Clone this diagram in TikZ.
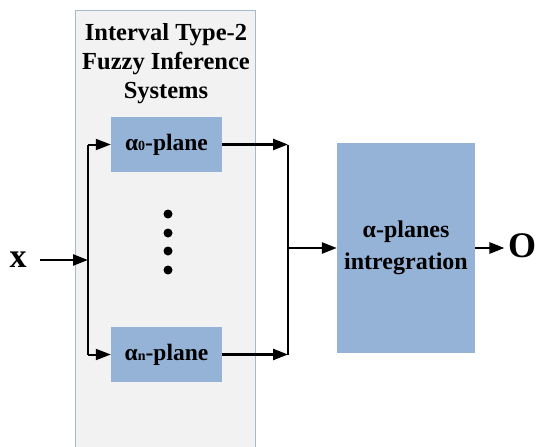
\documentclass[tikz,border=0pt]{standalone}
\usepackage{fontspec}
\setmainfont{Liberation Serif}
\usetikzlibrary{arrows.meta}
\definecolor{panelfill}{HTML}{F2F2F2}
\definecolor{paneledge}{HTML}{A9B9CC}
\definecolor{blockfill}{HTML}{95B3D7}
\newcommand{\fsz}[2]{\fontsize{#1}{#2}\selectfont\bfseries}
\newcommand{\alsub}[1]{{\fontsize{14}{14}\selectfont\bfseries #1}}
\begin{document}
\begin{tikzpicture}[x=1pt,y=-1pt,
  block/.style={fill=blockfill,draw=none,inner sep=0pt,align=center},
  arr/.style={line width=2.5pt,-{Triangle[length=15pt,width=11pt]}},
  thinline/.style={line width=1.3pt},
  dot/.style={circle,fill=black,inner sep=0pt,minimum size=9pt}]
\useasboundingbox (0,0) rectangle (536,447);
% grey panel holding the inference systems
\fill[panelfill] (75,10) rectangle (255,447);
\draw[paneledge,line width=1pt] (75,447) -- (75,10) -- (255,10) -- (255,447);
\node[align=center,font=\fsz{24.5}{29}] (title) at (166,64) {Interval Type-2\\Fuzzy Inference\\Systems};
% alpha-plane blocks
\node[block,minimum width=111pt,minimum height=55pt,font=\fsz{23.5}{24}] (a0) at (166.5,144.5) {α\alsub{0}-plane};
\node[block,minimum width=111pt,minimum height=55pt,font=\fsz{23.5}{24}] (an) at (166.5,354.5) {α\alsub{n}-plane};
\node[dot] (d1) at (168,214) {};
\node[dot] (d2) at (168,233) {};
\node[dot] (d3) at (168,251) {};
\node[dot] (d4) at (168,270) {};
% integration block
\node[block,minimum width=138pt,minimum height=210pt,font=\fsz{24}{32}] (int) at (406,248) {α-planes\\intregration};
% input and output
\node[font=\fsz{34}{34}] (x) at (18,260) {x};
\node[font=\fsz{36}{36}] (o) at (522,246) {O};
% fan-out of the input
\coordinate (split) at (88,260);
\coordinate (st) at (88,144.5);
\coordinate (sb) at (88,354.5);
\draw[arr] (40,260) -- (split);
\draw[thinline] (st) -- (sb);
\draw[arr,line width=2pt] (st) -- (a0.west);
\draw[arr,line width=2pt] (sb) -- (an.west);
% merge into the integration block
\coordinate (mt) at (288,144.5);
\coordinate (mb) at (288,354.5);
\coordinate (mm) at (288,248);
\coordinate (oin) at (o.west |- 0,248);
\draw[arr] (a0.east) -- (mt);
\draw[arr] (an.east) -- (mb);
\draw[thinline] (mt) -- (mb);
\draw[arr] (mm) -- (int.west);
\draw[arr] (int.east) -- (oin);
\end{tikzpicture}
\end{document}
